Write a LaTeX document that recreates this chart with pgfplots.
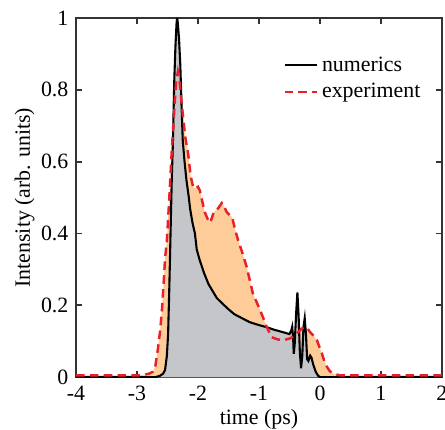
\documentclass[border=0pt]{standalone}
\usepackage{fontspec}
\setmainfont{Liberation Serif}
\usepackage{pgfplots}
\usepackage{pgfplotstable}
\pgfplotsset{compat=1.18}
\definecolor{expred}{HTML}{E8202A}
\definecolor{expfill}{HTML}{FDCC99}
\definecolor{numfill}{HTML}{C5C6C9}
\pgfplotstableread{
t I
-4 0
-2.70 0
-2.62 0.004
-2.57 0.01
-2.54 0.02
-2.51 0.06
-2.49 0.12
-2.47 0.25
-2.45 0.40
-2.43 0.55
-2.41 0.66
-2.39 0.82
-2.37 0.92
-2.35 0.99
-2.34 1.0
-2.33 0.985
-2.31 0.94
-2.29 0.87
-2.27 0.76
-2.25 0.66
-2.22 0.60
-2.19 0.55
-2.15 0.50
-2.13 0.47
-2.09 0.43
-2.05 0.40
-2.02 0.355
-1.97 0.325
-1.90 0.29
-1.83 0.26
-1.75 0.237
-1.69 0.22
-1.60 0.205
-1.48 0.186
-1.40 0.175
-1.31 0.167
-1.15 0.153
-1.00 0.145
-0.87 0.139
-0.75 0.132
-0.60 0.125
-0.50 0.12
-0.47 0.13
-0.455 0.14
-0.44 0.11
-0.43 0.065
-0.415 0.09
-0.39 0.18
-0.37 0.236
-0.35 0.17
-0.33 0.07
-0.31 0.025
-0.29 0.06
-0.27 0.14
-0.25 0.164
-0.23 0.12
-0.21 0.05
-0.19 0.045
-0.16 0.06
-0.14 0.055
-0.11 0.035
-0.07 0.015
-0.03 0.004
0 0
2 0
}\numtab
\pgfplotstableread{
t I
-4 0.005
-3.0 0.005
-2.9 0.006
-2.8 0.01
-2.74 0.015
-2.70 0.03
-2.66 0.075
-2.62 0.13
-2.59 0.19
-2.56 0.27
-2.54 0.33
-2.51 0.38
-2.47 0.50
-2.43 0.63
-2.39 0.74
-2.36 0.82
-2.33 0.85
-2.30 0.82
-2.26 0.75
-2.21 0.67
-2.16 0.62
-2.12 0.56
-2.08 0.53
-2.05 0.525
-2.00 0.53
-1.97 0.52
-1.93 0.49
-1.89 0.46
-1.84 0.44
-1.80 0.43
-1.77 0.445
-1.74 0.46
-1.67 0.47
-1.61 0.485
-1.57 0.475
-1.53 0.46
-1.44 0.445
-1.39 0.41
-1.34 0.38
-1.27 0.345
-1.20 0.306
-1.10 0.233
-0.98 0.186
-0.87 0.139
-0.79 0.111
-0.69 0.105
-0.60 0.103
-0.49 0.108
-0.42 0.115
-0.36 0.125
-0.30 0.135
-0.25 0.14
-0.20 0.135
-0.16 0.125
-0.10 0.115
-0.05 0.103
0.00 0.08
0.03 0.067
0.07 0.045
0.11 0.03
0.16 0.017
0.21 0.011
0.28 0.007
0.33 0.005
2 0.005
}\exptab
\begin{document}
\begin{tikzpicture}[font=\fontsize{11.5}{14}\selectfont]
\useasboundingbox (-40pt,-27.4pt) rectangle (194.2pt,198.5pt);
\begin{axis}[
  at={(0,0)}, anchor=south west,
  scale only axis,
  width=192.6pt, height=189pt,
  xmin=-4, xmax=2, ymin=0, ymax=1,
  xtick={-4,-3,-2,-1,0,1,2},
  ytick={0,0.2,0.4,0.6,0.8,1},
  tick align=inside,
  major tick length=3pt,
  axis line style={line width=1.1pt, black!80},
  every tick/.style={line width=1pt, black!80},
  /pgf/number format/assume math mode=true,
  xticklabel style={yshift=-1pt},
  yticklabel style={xshift=-0.5pt},
  xlabel={time (ps)},
  ylabel={Intensity (arb. units)},
  xlabel style={yshift=2.3pt},
  ylabel style={yshift=-3.5pt},
  legend style={draw=none, fill=none, at={(0.55,0.915)}, anchor=north west, row sep=1pt},
  legend cell align=left,
]
\addplot[fill=expfill, draw=none, forget plot] table[x=t,y=I] {\exptab} \closedcycle;
\addplot[fill=numfill, draw=none, forget plot] table[x=t,y=I] {\numtab} \closedcycle;
\addplot[black, line width=1.1pt] table[x=t,y=I] {\numtab};
\addlegendentry{numerics}
\addplot[expred, line width=1.3pt, dash pattern=on 4.5pt off 2.8pt] table[x=t,y=I] {\exptab};
\addlegendentry{experiment}
\end{axis}
\end{tikzpicture}
\end{document}
